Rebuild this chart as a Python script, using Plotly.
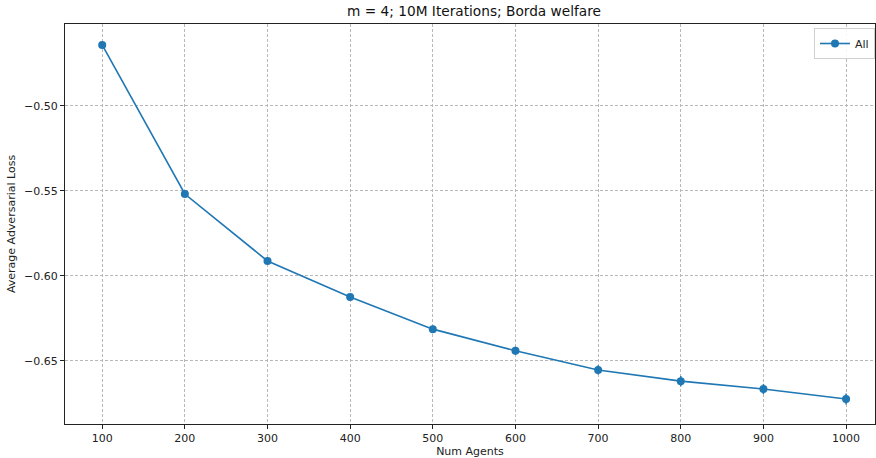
import plotly.graph_objects as go

num_agents = [100, 200, 300, 400, 500, 600, 700, 800, 900, 1000]
avg_loss = [-0.4641, -0.5518, -0.5912, -0.6124, -0.6313, -0.6440, -0.6553, -0.6619, -0.6665, -0.6724]
loss_err = [0.001, 0.0015, 0.0018, 0.002, 0.0022, 0.0024, 0.0027, 0.003, 0.003, 0.0032]
x_ticks = [100, 200, 300, 400, 500, 600, 700, 800, 900, 1000]
y_ticks = [-0.50, -0.55, -0.60, -0.65]

fig = go.Figure()
fig.add_trace(go.Scatter(
    x=num_agents, y=avg_loss, name="All", mode="lines+markers",
    line=dict(color="#1f77b4", width=1.6),
    marker=dict(color="#1f77b4", size=8, symbol="circle"),
    error_y=dict(type="data", array=loss_err, visible=True, color="#1f77b4", thickness=1.5, width=0),
))

axis_common = dict(
    showline=True, linecolor="#222222", linewidth=1, mirror=True,
    showgrid=True, gridcolor="#b8b8b8", griddash="3px,2px", gridwidth=0.8,
    ticks="outside", ticklen=4, tickcolor="#222222", zeroline=False,
    automargin=False,
    tickfont=dict(family="DejaVu Sans", size=11, color="#222222"),
)

fig.update_layout(
    width=876, height=458,
    margin=dict(l=65, r=1, t=24, b=34),
    paper_bgcolor="white", plot_bgcolor="white",
    title=dict(text="m = 4; 10M Iterations; Borda welfare", xref="paper", x=0.505, xanchor="center",
               y=0.985, yanchor="top",
               font=dict(family="DejaVu Sans", size=13.7, color="#111111")),
    xaxis=dict(range=[55, 1035], tickvals=x_ticks,
               title=dict(text="Num Agents", standoff=2,
                          font=dict(family="DejaVu Sans", size=11, color="#222222")),
               **axis_common),
    yaxis=dict(range=[-0.6871, -0.4518], tickvals=y_ticks, tickformat=".2f",
               title=dict(text="Average Adversarial Loss", standoff=6,
                          font=dict(family="DejaVu Sans", size=11, color="#222222")),
               **axis_common),
    showlegend=True,
    legend=dict(x=1.0, y=0.99, xanchor="right", yanchor="top",
                bgcolor="rgba(255,255,255,0.9)", bordercolor="#d0d0d0", borderwidth=1,
                font=dict(family="DejaVu Sans", size=11, color="#222222")),
)

fig.write_html("out.html", config={"displayModeBar": False},
               post_script="document.body.style.margin='0';document.body.style.overflow='hidden';")
